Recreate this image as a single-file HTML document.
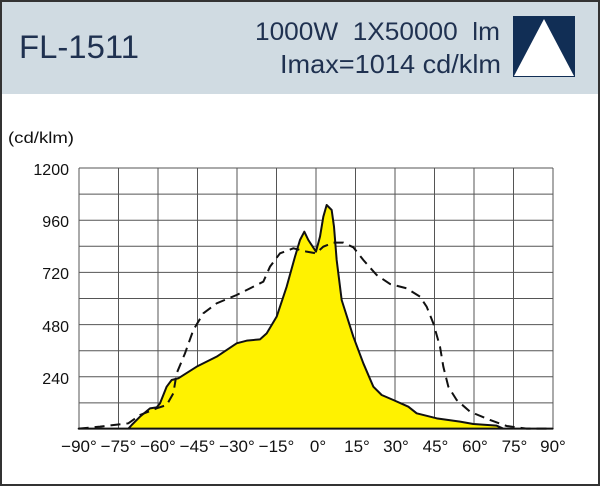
<!DOCTYPE html>
<html><head><meta charset="utf-8"><style>
html,body{margin:0;padding:0;background:#fff}
svg{display:block}
text{font-family:"Liberation Sans",Arial,sans-serif}
</style></head><body>
<svg width="600" height="486" viewBox="0 0 600 486" xmlns="http://www.w3.org/2000/svg">
<rect x="0" y="0" width="600" height="486" fill="#fff"/>
<rect x="1" y="1" width="598" height="93" fill="#d0dbe2"/>
<rect x="1" y="1" width="598" height="484" fill="none" stroke="#333" stroke-width="2"/>
<text x="19" y="58" font-size="32" fill="#1f3150" textLength="120" lengthAdjust="spacingAndGlyphs">FL-1511</text>
<text x="255" y="40" font-size="25" fill="#1f3150" textLength="245" lengthAdjust="spacingAndGlyphs" xml:space="preserve">1000W  1X50000  lm</text>
<text x="280" y="73" font-size="26" fill="#1f3150" textLength="221" lengthAdjust="spacingAndGlyphs">Imax=1014 cd/klm</text>
<rect x="513" y="16" width="62" height="61" fill="#112e55"/>
<polygon points="544,19 574,76 514,76" fill="#fff"/>
<text x="8" y="143" font-size="16" fill="#111" textLength="66" lengthAdjust="spacingAndGlyphs">(cd/klm)</text>
<g font-size="16" fill="#111" text-anchor="end">
<text x="69" y="175">1200</text>
<text x="69" y="227">960</text>
<text x="69" y="279">720</text>
<text x="69" y="332">480</text>
<text x="69" y="384">240</text>
</g>
<g stroke="#555" stroke-width="1" fill="none">
<path d="M79 168H553M79 194.1H553M79 220.2H553M79 246.3H553M79 272.4H553M79 298.5H553M79 324.6H553M79 350.7H553M79 376.8H553M79 402.9H553M79 429H553"/>
<path d="M79 168V429M118.5 168V429M158 168V429M197.5 168V429M237 168V429M276.5 168V429M316 168V429M355.5 168V429M395 168V429M434.5 168V429M474 168V429M513.5 168V429M553 168V429"/>
</g>
<g transform="translate(60,160) scale(0.33333)">
<path d="M56,806 L205,806 L215,795 L240,770 L270,745 L290,742 L300,730 L320,680 L335,660 L355,655 L410,620 L470,590 L530,550 L560,542 L600,538 L620,520 L650,470 L680,380 L705,290 L720,240 L733,215 L745,240 L768,275 L780,230 L790,170 L800,135 L815,150 L822,200 L830,300 L845,420 L880,530 L910,610 L940,680 L965,705 L1000,720 L1045,740 L1070,760 L1130,775 L1200,785 L1240,792 L1310,797 L1330,806 L1478,806 Z" fill="#fff200" stroke="#111" stroke-width="6" stroke-linejoin="round"/>
<path d="M56,806 L120,800 L205,790 L240,765 L290,745 L320,735 L340,700 L350,640 L375,580 L400,510 L430,460 L470,430 L530,405 L570,385 L610,365 L630,320 L660,280 L700,265 L740,275 L768,280 L790,260 L820,248 L850,248 L880,262 L910,300 L950,345 L990,372 L1040,385 L1080,410 L1100,440 L1120,490 L1140,560 L1150,620 L1165,680 L1190,720 L1230,755 L1290,780 L1340,798 L1400,806 L1478,806" fill="none" stroke="#111" stroke-width="6" stroke-dasharray="30,18"/>
</g>
<g font-size="17" fill="#111" text-anchor="middle">
<text x="79" y="452">−90°</text>
<text x="118.5" y="452">−75°</text>
<text x="158" y="452">−60°</text>
<text x="197.5" y="452">−45°</text>
<text x="237" y="452">−30°</text>
<text x="276.5" y="452">−15°</text>
<text x="318" y="452">0°</text>
<text x="357" y="452">15°</text>
<text x="396" y="452">30°</text>
<text x="435.5" y="452">45°</text>
<text x="475" y="452">60°</text>
<text x="514.5" y="452">75°</text>
<text x="553" y="452">90°</text>
</g>
</svg>
</body></html>
